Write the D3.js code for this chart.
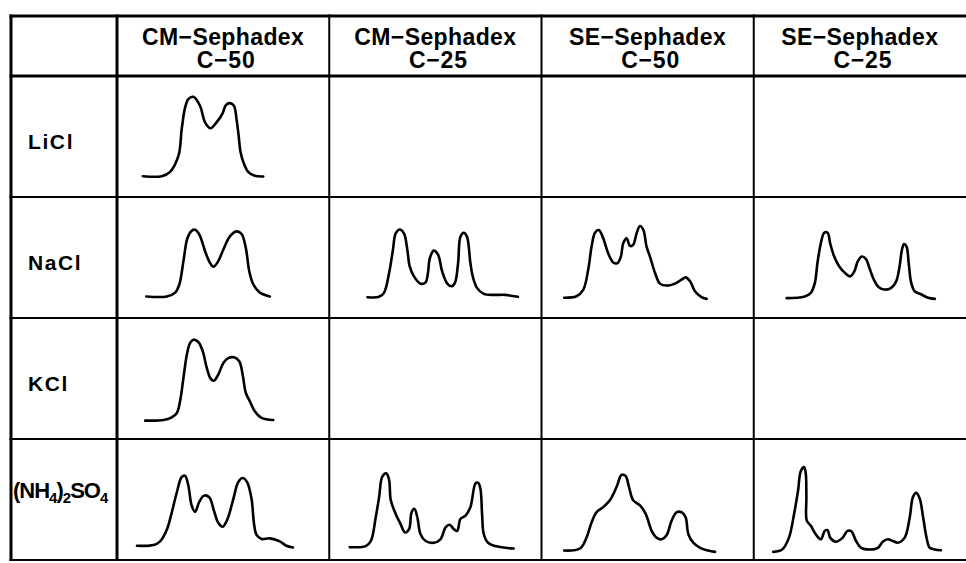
<!DOCTYPE html>
<html>
<head>
<meta charset="utf-8">
<script src="https://cdn.jsdelivr.net/npm/d3@7"></script>
<style>
  html, body { margin: 0; padding: 0; background: #fff; }
  svg { display: block; }
  text { font-family: "Liberation Sans", Arial, sans-serif; font-weight: bold; fill: #000; }
</style>
</head>
<body>
<script>
// ---------------------- DATA ----------------------

const exchangers = ["CM−Sephadex", "CM−Sephadex", "SE−Sephadex", "SE−Sephadex"];
const grades = ["C−50", "C−25", "C−50", "C−25"];
const salts = ["LiCl", "NaCl", "KCl", "(NH4)2SO4"];

// elution profiles: [fraction (0-100 across cell), absorbance (0-100 of cell height)]
const cm50LiCl = [[12.2,17.2],[21.1,17.2],[25.0,20.8],[29.0,34.4],[30.5,56.3],[32.1,74.0],[33.6,80.9],[36.0,82.8],[39.1,75.4],[41.5,61.7],[44.1,56.8],[46.9,61.7],[49.8,69.4],[51.3,76.0],[53.2,77.6],[55.1,75.4],[56.3,64.5],[57.3,50.8],[58.2,37.2],[59.5,29.0],[61.8,20.8],[64.9,17.5],[68.9,16.9]];
const cm50NaCl = [[13.8,17.8],[23.5,17.8],[27.4,21.0],[29.4,27.9],[31.3,47.0],[33.2,66.1],[35.2,72.1],[36.8,73.0],[38.8,68.9],[41.5,55.2],[43.8,45.6],[45.4,42.3],[47.7,47.0],[50.1,56.6],[53.2,67.5],[56.3,71.6],[58.7,69.4],[60.7,57.9],[62.3,38.8],[64.2,27.9],[67.3,21.0],[72.0,17.8]];
const cm50KCl = [[13.3,15.2],[21.9,15.7],[25.8,17.9],[28.2,21.5],[29.7,31.1],[31.3,50.4],[32.9,69.7],[34.4,79.3],[36.0,82.1],[38.3,80.2],[40.4,72.5],[42.3,58.7],[44.1,49.9],[45.7,48.2],[47.7,53.2],[50.1,62.8],[52.4,66.9],[55.1,67.5],[57.6,64.2],[59.2,53.2],[60.7,38.0],[62.6,31.1],[64.9,22.9],[68.1,17.4],[73.6,15.7]];
const cm50Nh4 = [[9.4,11.8],[17.2,12.3],[20.3,15.4],[23.5,25.2],[25.8,39.2],[28.2,56.0],[30.5,68.6],[32.1,69.5],[33.6,61.6],[35.2,44.8],[36.8,39.8],[38.8,48.2],[41.0,53.2],[43.5,51.8],[45.7,40.6],[47.7,30.8],[49.8,27.5],[52.0,33.6],[54.8,50.4],[57.1,64.4],[59.2,67.8],[61.3,64.4],[63.4,50.4],[64.5,30.8],[65.7,21.0],[68.1,17.4],[72.0,17.9],[76.7,15.4],[79.8,11.8],[82.9,10.4]];
const cm25NaCl = [[18.0,17.2],[23.5,17.5],[25.8,20.8],[28.2,37.2],[30.0,56.3],[31.3,69.9],[33.2,73.2],[35.2,69.9],[36.8,56.3],[37.9,42.6],[39.9,34.4],[43.0,28.4],[45.4,29.5],[46.5,37.2],[47.4,49.5],[49.3,55.7],[51.3,52.2],[53.2,38.5],[55.6,28.4],[57.6,26.2],[59.2,29.0],[60.7,45.4],[61.8,67.2],[63.4,70.5],[64.9,67.2],[66.5,45.4],[67.6,34.4],[69.6,24.9],[72.8,19.9],[78.2,19.1],[82.9,19.1],[88.9,17.5]];
const cm25Nh4 = [[9.7,10.6],[17.2,11.5],[19.6,15.7],[21.9,35.3],[23.5,52.1],[25.0,68.9],[26.9,71.7],[28.2,66.1],[29.0,49.3],[31.3,38.1],[33.6,29.7],[35.7,22.7],[37.6,25.5],[38.8,39.5],[40.1,42.3],[41.5,35.3],[43.0,21.3],[45.4,15.7],[49.3,14.3],[52.4,17.1],[54.8,26.9],[56.7,29.1],[58.7,25.5],[60.3,24.1],[61.8,33.9],[64.2,36.7],[66.5,43.7],[68.9,63.3],[70.1,63.9],[71.2,59.1],[72.0,38.1],[72.8,21.3],[74.8,14.3],[78.2,11.5],[82.9,10.1],[86.9,9.5]];
const se50NaCl = [[10.7,16.7],[16.5,18.0],[19.7,23.5],[22.0,39.9],[23.6,59.0],[25.2,70.5],[27.0,72.7],[29.1,65.8],[31.4,53.6],[33.8,45.9],[35.8,45.4],[37.4,50.8],[38.5,61.7],[40.1,65.8],[41.7,59.6],[43.2,60.4],[44.8,69.9],[46.4,76.0],[48.0,72.7],[49.5,59.0],[51.1,50.8],[53.5,37.2],[55.8,28.4],[59.0,26.8],[62.9,28.4],[66.0,31.7],[67.9,33.6],[70.0,30.3],[72.3,22.1],[75.2,17.5],[77.8,15.8]];
const se50Nh4 = [[10.7,7.8],[18.1,9.5],[21.2,18.5],[23.6,31.1],[25.9,39.5],[29.1,43.7],[32.2,49.3],[35.4,60.5],[37.7,70.3],[39.6,69.5],[41.2,60.5],[43.2,49.3],[46.4,45.1],[49.1,38.1],[51.9,24.1],[54.2,18.5],[56.6,17.1],[59.0,20.7],[61.3,32.5],[63.7,39.5],[66.0,39.5],[67.9,35.3],[69.2,21.3],[71.5,14.3],[74.7,10.1],[78.6,7.8],[81.8,6.7]];
const se25NaCl = [[15.5,16.4],[23.7,17.5],[26.9,20.8],[28.8,29.0],[30.0,45.4],[31.6,61.7],[33.2,70.5],[34.8,70.5],[36.0,61.7],[37.9,50.8],[40.3,42.6],[43.4,36.6],[45.5,34.4],[47.4,38.5],[49.0,46.7],[50.9,50.8],[52.9,48.6],[54.5,41.3],[56.6,31.7],[58.8,25.7],[61.6,23.5],[64.8,24.9],[67.1,30.3],[68.7,42.6],[69.8,56.3],[70.8,61.2],[72.0,59.0],[73.0,45.4],[74.2,29.0],[75.8,22.1],[79.0,19.4],[82.1,16.7],[85.3,15.8]];
const se25Nh4 = [[9.2,6.7],[13.4,8.7],[16.6,18.5],[19.0,38.1],[20.9,57.7],[22.1,73.1],[23.7,76.8],[24.5,71.7],[24.8,52.1],[25.0,32.5],[26.9,28.3],[29.2,21.3],[31.6,17.1],[33.5,24.1],[34.8,24.6],[36.0,18.5],[38.7,15.1],[41.9,18.5],[44.2,24.1],[46.1,23.5],[48.2,15.7],[50.6,10.1],[54.5,8.7],[58.5,10.1],[60.8,15.1],[63.2,17.1],[65.6,15.7],[67.9,14.3],[71.1,18.5],[73.5,35.3],[75.0,52.1],[76.6,55.5],[78.2,50.7],[79.8,35.3],[81.4,18.5],[82.9,10.1],[85.3,8.7],[88.2,8.1]];

// which cell each profile goes in (col = exchanger, row = salt)
const profiles = [
    { col: 0, row: 0, points: cm50LiCl },
    { col: 0, row: 1, points: cm50NaCl },
    { col: 0, row: 2, points: cm50KCl },
    { col: 0, row: 3, points: cm50Nh4 },
    { col: 1, row: 1, points: cm25NaCl },
    { col: 1, row: 3, points: cm25Nh4 },
    { col: 2, row: 1, points: se50NaCl },
    { col: 2, row: 3, points: se50Nh4 },
    { col: 3, row: 1, points: se25NaCl },
    { col: 3, row: 3, points: se25Nh4 }
];

// ---------------------- LAYOUT ----------------------

const width = 966, height = 563;
const tableLeft = 11, labelRight = 117, tableRight = 966;
const tableTop = 16, headerBottom = 76, tableBottom = 560;

const svg = d3.select("body").append("svg")
    .attr("width", width)
    .attr("height", height);

const colScale = d3.scaleBand().domain(d3.range(exchangers.length)).range([labelRight, tableRight]);
const rowScale = d3.scaleBand().domain(d3.range(salts.length)).range([headerBottom, tableBottom]);

// ---------------------- GRID ----------------------

const grid = svg.append("g").attr("stroke", "#000").attr("fill", "none");

// horizontal rules
const hRules = [{ y: tableTop, w: 3 }, { y: headerBottom, w: 3 }]
    .concat(d3.range(1, salts.length).map(i => ({ y: rowScale(i), w: 2 })))
    .concat([{ y: tableBottom, w: 2 }]);

grid.selectAll(".hrule")
    .data(hRules)
    .enter().append("line")
    .attr("class", "hrule")
    .attr("x1", tableLeft - 1.5).attr("x2", tableRight)
    .attr("y1", d => d.y).attr("y2", d => d.y)
    .attr("stroke-width", d => d.w);

// vertical rules
const vRules = [{ x: tableLeft, w: 3 }, { x: labelRight, w: 3 }]
    .concat(d3.range(1, exchangers.length).map(i => ({ x: colScale(i), w: 2 })));

grid.selectAll(".vrule")
    .data(vRules)
    .enter().append("line")
    .attr("class", "vrule")
    .attr("x1", d => d.x).attr("x2", d => d.x)
    .attr("y1", tableTop - 1.5).attr("y2", tableBottom + 1)
    .attr("stroke-width", d => d.w);

// ---------------------- HEADERS ----------------------

const headers = svg.append("g").attr("text-anchor", "middle").style("font-size", "23px");

headers.selectAll(".ex")
    .data(exchangers)
    .enter().append("text")
    .attr("class", "ex")
    .attr("x", (d, i) => colScale(i) + colScale.bandwidth() / 2)
    .attr("y", 45)
    .style("letter-spacing", "0.4px")
    .text(d => d);

headers.selectAll(".grade")
    .data(grades)
    .enter().append("text")
    .attr("class", "grade")
    .attr("x", (d, i) => colScale(i) + colScale.bandwidth() / 2 + 3)
    .attr("y", 68)
    .style("letter-spacing", "0.8px")
    .text(d => d);

// ---------------------- ROW LABELS ----------------------

salts.forEach((salt, i) => {
    const hasSub = /\d/.test(salt);
    const cy = rowScale(i) + rowScale.bandwidth() / 2;
    const t = svg.append("text")
        .attr("x", hasSub ? tableLeft + 2 : 28)
        .attr("y", cy + (hasSub ? -2 : 12))
        .style("font-size", hasSub ? "22px" : "21px")
        .style("letter-spacing", hasSub ? "-1px" : "1.6px");

    // digits in the formula are subscripts
    const parts = salt.match(/\d+|\D+/g);
    let shifted = false;
    parts.forEach(p => {
        const isNum = /\d/.test(p);
        const span = t.append("tspan").text(p);
        if (isNum) {
            span.style("font-size", "15px").attr("dy", 5);
            shifted = true;
        } else if (shifted) {
            span.attr("dy", -5);
            shifted = false;
        }
    });
});

// ---------------------- PROFILES ----------------------

const curves = svg.append("g")
    .attr("fill", "none")
    .attr("stroke", "#000")
    .attr("stroke-width", 2.6)
    .attr("stroke-linejoin", "round")
    .attr("stroke-linecap", "round");

profiles.forEach(p => {
    const x0 = colScale(p.col), y0 = rowScale(p.row);
    const xs = d3.scaleLinear().domain([0, 100]).range([x0, x0 + colScale.bandwidth()]);
    const ys = d3.scaleLinear().domain([0, 100]).range([y0 + rowScale.bandwidth(), y0]);
    const line = d3.line()
        .x(d => xs(d[0]))
        .y(d => ys(d[1]))
        .curve(d3.curveCatmullRom.alpha(0.5));
    curves.append("path").datum(p.points).attr("d", line);
});
</script>
</body>
</html>
